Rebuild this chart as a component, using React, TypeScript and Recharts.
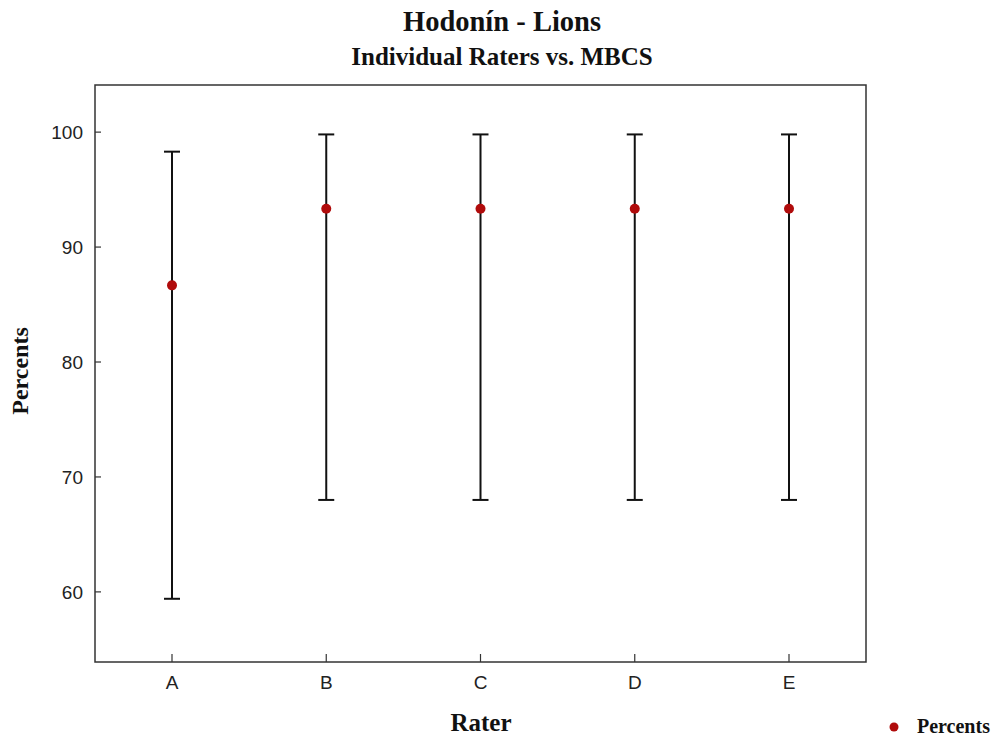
import { ComposedChart, Line, ErrorBar, XAxis, YAxis } from 'recharts';

const raters = ['A', 'B', 'C', 'D', 'E'];
const percents = [86.67, 93.33, 93.33, 93.33, 93.33];
const lowerLimits = [59.4, 68.0, 68.0, 68.0, 68.0];
const upperLimits = [98.3, 99.8, 99.8, 99.8, 99.8];
const yTicks = [60, 70, 80, 90, 100];

const W = 1003;
const H = 742;
const M = { top: 85, right: 137, left: 0, bottom: 50 };
const Y_AXIS_W = 95;
const X_AXIS_H = 30;
const serif = '"Liberation Serif", "Times New Roman", serif';
const sans = '"Liberation Sans", Arial, sans-serif';
const dotColor = '#b00b0b';
const axisColor = '#333';

const data = raters.map((r, i) => ({
  rater: r,
  percents: percents[i],
  err: [percents[i] - lowerLimits[i], upperLimits[i] - percents[i]],
}));

// ticks drawn inside the frame, like the original
const YTick = (props: any) => {
  const { x, y, payload } = props;
  const ax = x + 12;
  return (
    <g>
      <line x1={ax} x2={ax + 6} y1={y} y2={y} stroke={axisColor} strokeWidth={1.2} />
      <text x={x} y={y} dy="0.36em" textAnchor="end" fontFamily={sans} fontSize={19} fill="#222">{payload.value}</text>
    </g>
  );
};

const XTick = (props: any) => {
  const { x, y, payload } = props;
  const ay = y - 14;
  return (
    <g>
      <line x1={x} x2={x} y1={ay} y2={ay - 8} stroke={axisColor} strokeWidth={1.2} />
      <text x={x} y={y} dy="0.71em" textAnchor="middle" fontFamily={sans} fontSize={19} fill="#222">{payload.value}</text>
    </g>
  );
};

export default function App() {
  const plotL = M.left + Y_AXIS_W;
  const plotT = M.top;
  const plotR = W - M.right;
  const plotB = H - M.bottom - X_AXIS_H;
  return (
    <div style={{ position: 'absolute', left: 0, top: 0, width: W, height: H, background: '#fff' }}>
      <ComposedChart width={W} height={H} data={data} margin={M}>
        <XAxis dataKey="rater" height={X_AXIS_H} padding={{ left: 77, right: 77 }} tickSize={0} tickMargin={14}
          tick={<XTick />} tickLine={false} axisLine={false} />
        <YAxis width={Y_AXIS_W} domain={[53.9, 104.1]} ticks={yTicks} allowDataOverflow tickSize={0} tickMargin={12}
          tick={<YTick />} tickLine={false} axisLine={false} />
        <Line dataKey="percents" stroke="none" isAnimationActive={false}
          dot={{ r: 5, fill: dotColor, stroke: dotColor, strokeWidth: 0 }} activeDot={false}>
          <ErrorBar dataKey="err" width={8} stroke="#111" strokeWidth={2} direction="y" />
        </Line>
      </ComposedChart>
      <svg width={W} height={H} style={{ position: 'absolute', left: 0, top: 0, pointerEvents: 'none' }}>
        <rect x={plotL} y={plotT} width={plotR - plotL} height={plotB - plotT} fill="none" stroke={axisColor} strokeWidth={1.5} />
        <text x={502} y={31} textAnchor="middle" fontFamily={serif} fontWeight="bold" fontSize={28.5} fill="#111">Hodonín - Lions</text>
        <text x={502} y={65} textAnchor="middle" fontFamily={serif} fontWeight="bold" fontSize={25} fill="#111">Individual Raters vs. MBCS</text>
        <text x={481} y={731} textAnchor="middle" fontFamily={serif} fontWeight="bold" fontSize={25} fill="#111">Rater</text>
        <text x={28} y={371} textAnchor="middle" fontFamily={serif} fontWeight="bold" fontSize={24} fill="#111"
          transform="rotate(-90 28 371)">Percents</text>
        <circle cx={894} cy={727} r={4.5} fill={dotColor} />
        <text x={917} y={733} fontFamily={serif} fontWeight="bold" fontSize={20} fill="#111">Percents</text>
      </svg>
    </div>
  );
}
